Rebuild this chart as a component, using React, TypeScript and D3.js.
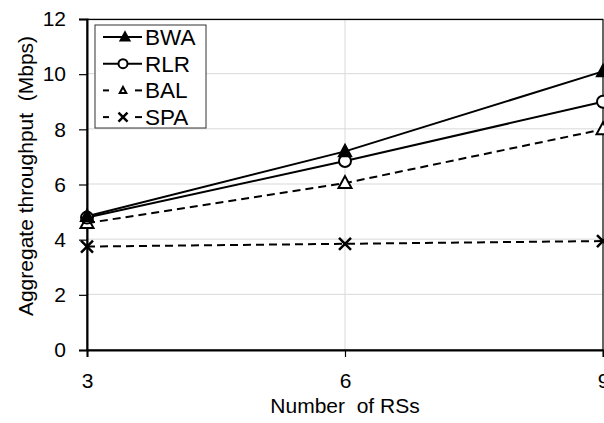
import React, { useEffect, useRef } from 'react';
import * as d3 from 'd3';

const rsCounts = [3, 6, 9];
const yTicks = [0, 2, 4, 6, 8, 10, 12];
const bwaValues = [4.85, 7.2, 10.1];
const rlrValues = [4.8, 6.85, 9.0];
const balValues = [4.6, 6.05, 8.0];
const spaValues = [3.75, 3.85, 3.95];
const seriesNames = ['BWA', 'RLR', 'BAL', 'SPA'];

const FONT = '"Liberation Sans", Arial, Helvetica, sans-serif';

function drawMarker(g, kind, x, y, scale = 1) {
  const s = scale;
  if (kind === 'BWA') {
    g.append('path')
      .attr('d', `M${x},${y - 7 * s} L${x + 6.5 * s},${y + 5 * s} L${x - 6.5 * s},${y + 5 * s} Z`)
      .attr('fill', '#000').attr('stroke', '#000').attr('stroke-width', 1.5);
  } else if (kind === 'RLR') {
    g.append('circle').attr('cx', x).attr('cy', y).attr('r', 6 * s)
      .attr('fill', '#fff').attr('stroke', '#000').attr('stroke-width', 2);
  } else if (kind === 'BAL') {
    g.append('path')
      .attr('d', `M${x},${y - 7 * s} L${x + 6.5 * s},${y + 5 * s} L${x - 6.5 * s},${y + 5 * s} Z`)
      .attr('fill', '#fff').attr('stroke', '#000').attr('stroke-width', 2);
  } else {
    g.append('path')
      .attr('d', `M${x - 6 * s},${y - 6 * s} L${x + 6 * s},${y + 6 * s} M${x - 6 * s},${y + 6 * s} L${x + 6 * s},${y - 6 * s}`)
      .attr('stroke', '#000').attr('stroke-width', 2.5).attr('fill', 'none');
  }
}

export default function App() {
  const ref = useRef(null);

  useEffect(() => {
    const svg = d3.select(ref.current);
    svg.selectAll('*').remove();

    const x = d3.scaleLinear().domain([3, 9]).range([87, 603]);
    const y = d3.scaleLinear().domain([0, 12]).range([350, 19]);

    const series = [
      { name: 'BWA', values: bwaValues, dash: null },
      { name: 'RLR', values: rlrValues, dash: null },
      { name: 'BAL', values: balValues, dash: '8,5' },
      { name: 'SPA', values: spaValues, dash: '8,5' },
    ];

    // gridlines
    svg.append('g').selectAll('line')
      .data(yTicks.filter((d) => d > 0))
      .enter().append('line')
      .attr('x1', x(3)).attr('x2', x(9))
      .attr('y1', (d) => y(d) - 0.5).attr('y2', (d) => y(d) - 0.5)
      .attr('stroke', '#d9d9d9').attr('stroke-width', 1);
    svg.append('line')
      .attr('x1', x(6)).attr('x2', x(6)).attr('y1', y(12)).attr('y2', y(0))
      .attr('stroke', '#d9d9d9').attr('stroke-width', 1);

    // frame
    svg.append('rect')
      .attr('x', x(3)).attr('y', y(12) + 0.5)
      .attr('width', x(9) - x(3)).attr('height', y(0) - y(12) - 0.5)
      .attr('fill', 'none').attr('stroke', '#000').attr('stroke-width', 1.2);

    // axes
    const yAxis = d3.axisLeft(y).tickValues(yTicks).tickSize(8).tickPadding(13).tickFormat(d3.format('d'));
    const gy = svg.append('g').attr('transform', `translate(${x(3)},0)`).call(yAxis);
    gy.select('.domain').attr('stroke', '#000').attr('stroke-width', 2);
    gy.selectAll('.tick line').attr('stroke', '#000').attr('stroke-width', 1.2);
    gy.selectAll('.tick text')
      .style('font-family', FONT).style('font-size', '21px').attr('fill', '#000');

    const xAxis = d3.axisBottom(x).tickValues(rsCounts).tickSize(7).tickPadding(16).tickFormat(d3.format('d'));
    const gx = svg.append('g').attr('transform', `translate(0,${y(0)})`).call(xAxis);
    gx.select('.domain').attr('stroke', '#000').attr('stroke-width', 2);
    gx.selectAll('.tick line').attr('stroke', '#000').attr('stroke-width', 1.2);
    gx.selectAll('.tick text')
      .style('font-family', FONT).style('font-size', '21px').attr('fill', '#000');

    // axis titles
    svg.append('text')
      .attr('x', 345).attr('y', 413)
      .attr('text-anchor', 'middle')
      .style('font-family', FONT).style('font-size', '21px')
      .style('white-space', 'pre')
      .text('Number  of RSs');
    svg.append('text')
      .attr('transform', 'translate(33,176) rotate(-90)')
      .attr('text-anchor', 'middle')
      .style('font-family', FONT).style('font-size', '21px')
      .style('white-space', 'pre')
      .text('Aggregate throughput  (Mbps)');

    // series
    const line = d3.line().x((d) => x(d[0])).y((d) => y(d[1]));
    series.forEach((s) => {
      const pts = rsCounts.map((c, i) => [c, s.values[i]]);
      svg.append('path')
        .datum(pts)
        .attr('d', line)
        .attr('fill', 'none')
        .attr('stroke', '#000')
        .attr('stroke-width', 2)
        .attr('stroke-dasharray', s.dash);
    });
    // markers after lines, reversed so BWA sits on top
    [...series].reverse().forEach((s) => {
      const mg = svg.append('g');
      rsCounts.forEach((c, i) => drawMarker(mg, s.name, x(c), y(s.values[i])));
    });

    // legend
    const legend = svg.append('g').attr('transform', 'translate(95,25)');
    legend.append('rect')
      .attr('width', 111).attr('height', 103)
      .attr('fill', '#fff').attr('stroke', '#333').attr('stroke-width', 1);
    seriesNames.forEach((name, i) => {
      const ly = 12 + i * 26.7;
      const dashed = name === 'BAL' || name === 'SPA';
      const lg = legend.append('g');
      if (dashed) {
        lg.append('line').attr('x1', 8).attr('x2', 14).attr('y1', ly).attr('y2', ly)
          .attr('stroke', '#000').attr('stroke-width', 2);
        lg.append('line').attr('x1', 40).attr('x2', 47).attr('y1', ly).attr('y2', ly)
          .attr('stroke', '#000').attr('stroke-width', 2);
      } else {
        lg.append('line').attr('x1', 8).attr('x2', 47).attr('y1', ly).attr('y2', ly)
          .attr('stroke', '#000').attr('stroke-width', 2);
      }
      const mx = name === 'BWA' ? 30 : 28;
      drawMarker(lg, name, mx, ly, name === 'BAL' ? 0.5 : 0.75);
      lg.append('text')
        .attr('x', 50).attr('y', ly + 8)
        .style('font-family', FONT).style('font-size', '22.5px')
        .text(name);
    });
  }, []);

  return (
    <svg
      ref={ref}
      width={604}
      height={423}
      style={{ position: 'absolute', left: 0, top: 0, background: '#fff' }}
    />
  );
}
